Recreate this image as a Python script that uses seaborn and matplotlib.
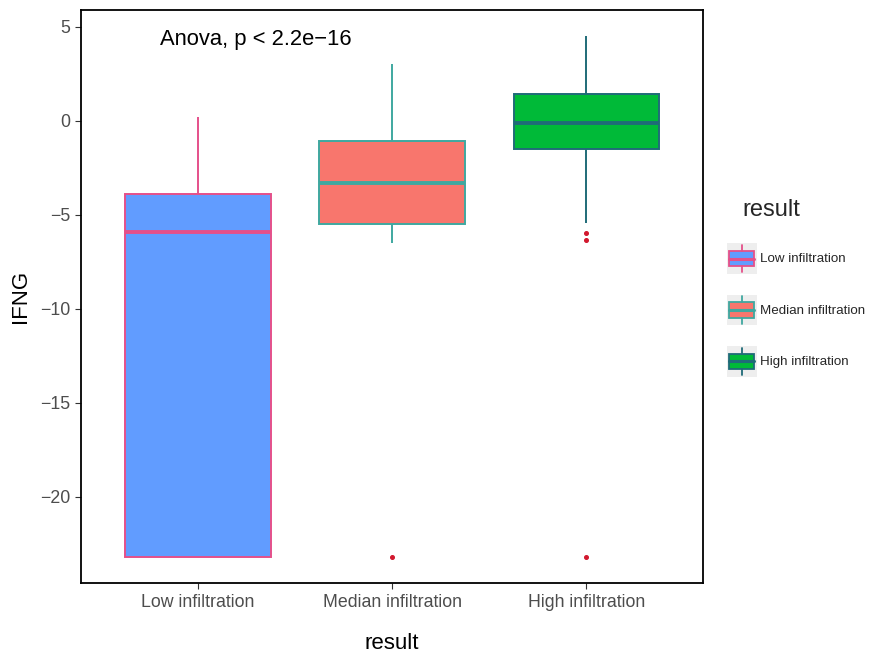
import matplotlib
matplotlib.use("Agg")
import matplotlib.pyplot as plt
import seaborn as sns
import pandas as pd
from matplotlib.patches import Rectangle, Patch
from matplotlib.lines import Line2D
from matplotlib.legend_handler import HandlerBase

# ---- data ----
groups = ["Low infiltration", "Median infiltration", "High infiltration"]
low_values = [-23.2, -23.2, -5.9, -3.9, 0.2]
median_values = [-23.2, -6.5, -5.5, -5.5, -3.3, -3.3, -1.1, -1.1, 3.0]
high_values = [-23.2, -6.35, -5.95, -5.45, -1.5, -1.5, -1.5, -1.5, -0.1,
               -0.1, -0.1, -0.1, 1.4, 1.4, 1.4, 1.4, 4.5]
fill_colors = ["#619CFF", "#F8766D", "#00BA38"]
edge_colors = ["#E5508A", "#3FA8A0", "#1F6B78"]
yticks = [5, 0, -5, -10, -15, -20]
annotation = "Anova, p < 2.2e\u221216"

df = pd.DataFrame({
    "result": [groups[0]] * len(low_values) + [groups[1]] * len(median_values)
              + [groups[2]] * len(high_values),
    "IFNG": low_values + median_values + high_values,
})

sns.set_theme(style="white")
plt.rcParams["font.family"] = ["Liberation Sans", "DejaVu Sans"]

fig = plt.figure(figsize=(8.73, 6.64), dpi=100)
ax = fig.add_axes([0.0928, 0.122, 0.7125, 0.863])

for g, fc, ec in zip(groups, fill_colors, edge_colors):
    sns.boxplot(
        data=df[df["result"] == g], x="result", y="IFNG", order=groups,
        color=fc, linecolor=ec, saturation=1, width=0.75, linewidth=1.4,
        showcaps=False, ax=ax,
        medianprops=dict(linewidth=2.8, color=ec),
        flierprops=dict(marker="o", markerfacecolor="#D2182E",
                        markeredgecolor="#D2182E", markersize=2.6),
    )

ax.set_xlim(-0.6, 2.6)
ax.set_ylim(-24.585, 5.885)
ax.set_yticks(yticks)
ax.set_yticklabels([str(t).replace("-", "\u2212") for t in yticks])
ax.tick_params(axis="both", which="both", length=4, width=0.8, color="#333333",
               labelcolor="#4D4D4D", labelsize=12.8, direction="out",
               left=True, bottom=True)
ax.tick_params(axis="x", pad=4)
for s in ax.spines.values():
    s.set_color("black")
    s.set_linewidth(1.3)
    s.set_visible(True)
ax.set_xlabel("result", fontsize=16, color="black", labelpad=16)
ax.set_ylabel("IFNG", fontsize=16, color="black", labelpad=7)

ax.text(-0.195, 4.31, annotation, ha="left", va="center", fontsize=15.8,
        color="black")


class BoxHandler(HandlerBase):
    def create_artists(self, legend, orig_handle, xdescent, ydescent,
                       width, height, fontsize, trans):
        fc = orig_handle.get_facecolor()
        ec = orig_handle.get_edgecolor()
        x0, y0 = -xdescent, -ydescent
        bg = Rectangle((x0, y0), width, height, facecolor="#EEEEEE",
                       edgecolor="none", transform=trans)
        bx = Rectangle((x0 + 0.08 * width, y0 + 0.25 * height), 0.84 * width,
                       0.5 * height, facecolor=fc, edgecolor=ec,
                       linewidth=1.3, transform=trans)
        cx = x0 + 0.5 * width
        w1 = Line2D([cx, cx], [y0 + 0.05 * height, y0 + 0.25 * height],
                    color=ec, lw=1.3, transform=trans)
        w2 = Line2D([cx, cx], [y0 + 0.75 * height, y0 + 0.95 * height],
                    color=ec, lw=1.3, transform=trans)
        md = Line2D([x0 + 0.08 * width, x0 + 0.92 * width],
                    [y0 + 0.5 * height] * 2, color=ec, lw=2.2,
                    transform=trans)
        return [bg, bx, w1, w2, md]


handles = [Patch(facecolor=fc, edgecolor=ec, label=g)
           for g, fc, ec in zip(groups, fill_colors, edge_colors)]
leg = fig.legend(handles=handles, labels=groups, title="result",
                 loc="upper left", bbox_to_anchor=(0.8265, 0.708),
                 frameon=False, fontsize=9.6, title_fontsize=17,
                 handler_map={Patch: BoxHandler()}, handlelength=2.25,
                 handleheight=3.1, labelspacing=1.6, handletextpad=0.2,
                 borderaxespad=0)
leg._legend_box.align = "left"
leg.get_title().set_position((16, 0))
leg._legend_box.sep = 16

fig.savefig("out.png", dpi=100)
